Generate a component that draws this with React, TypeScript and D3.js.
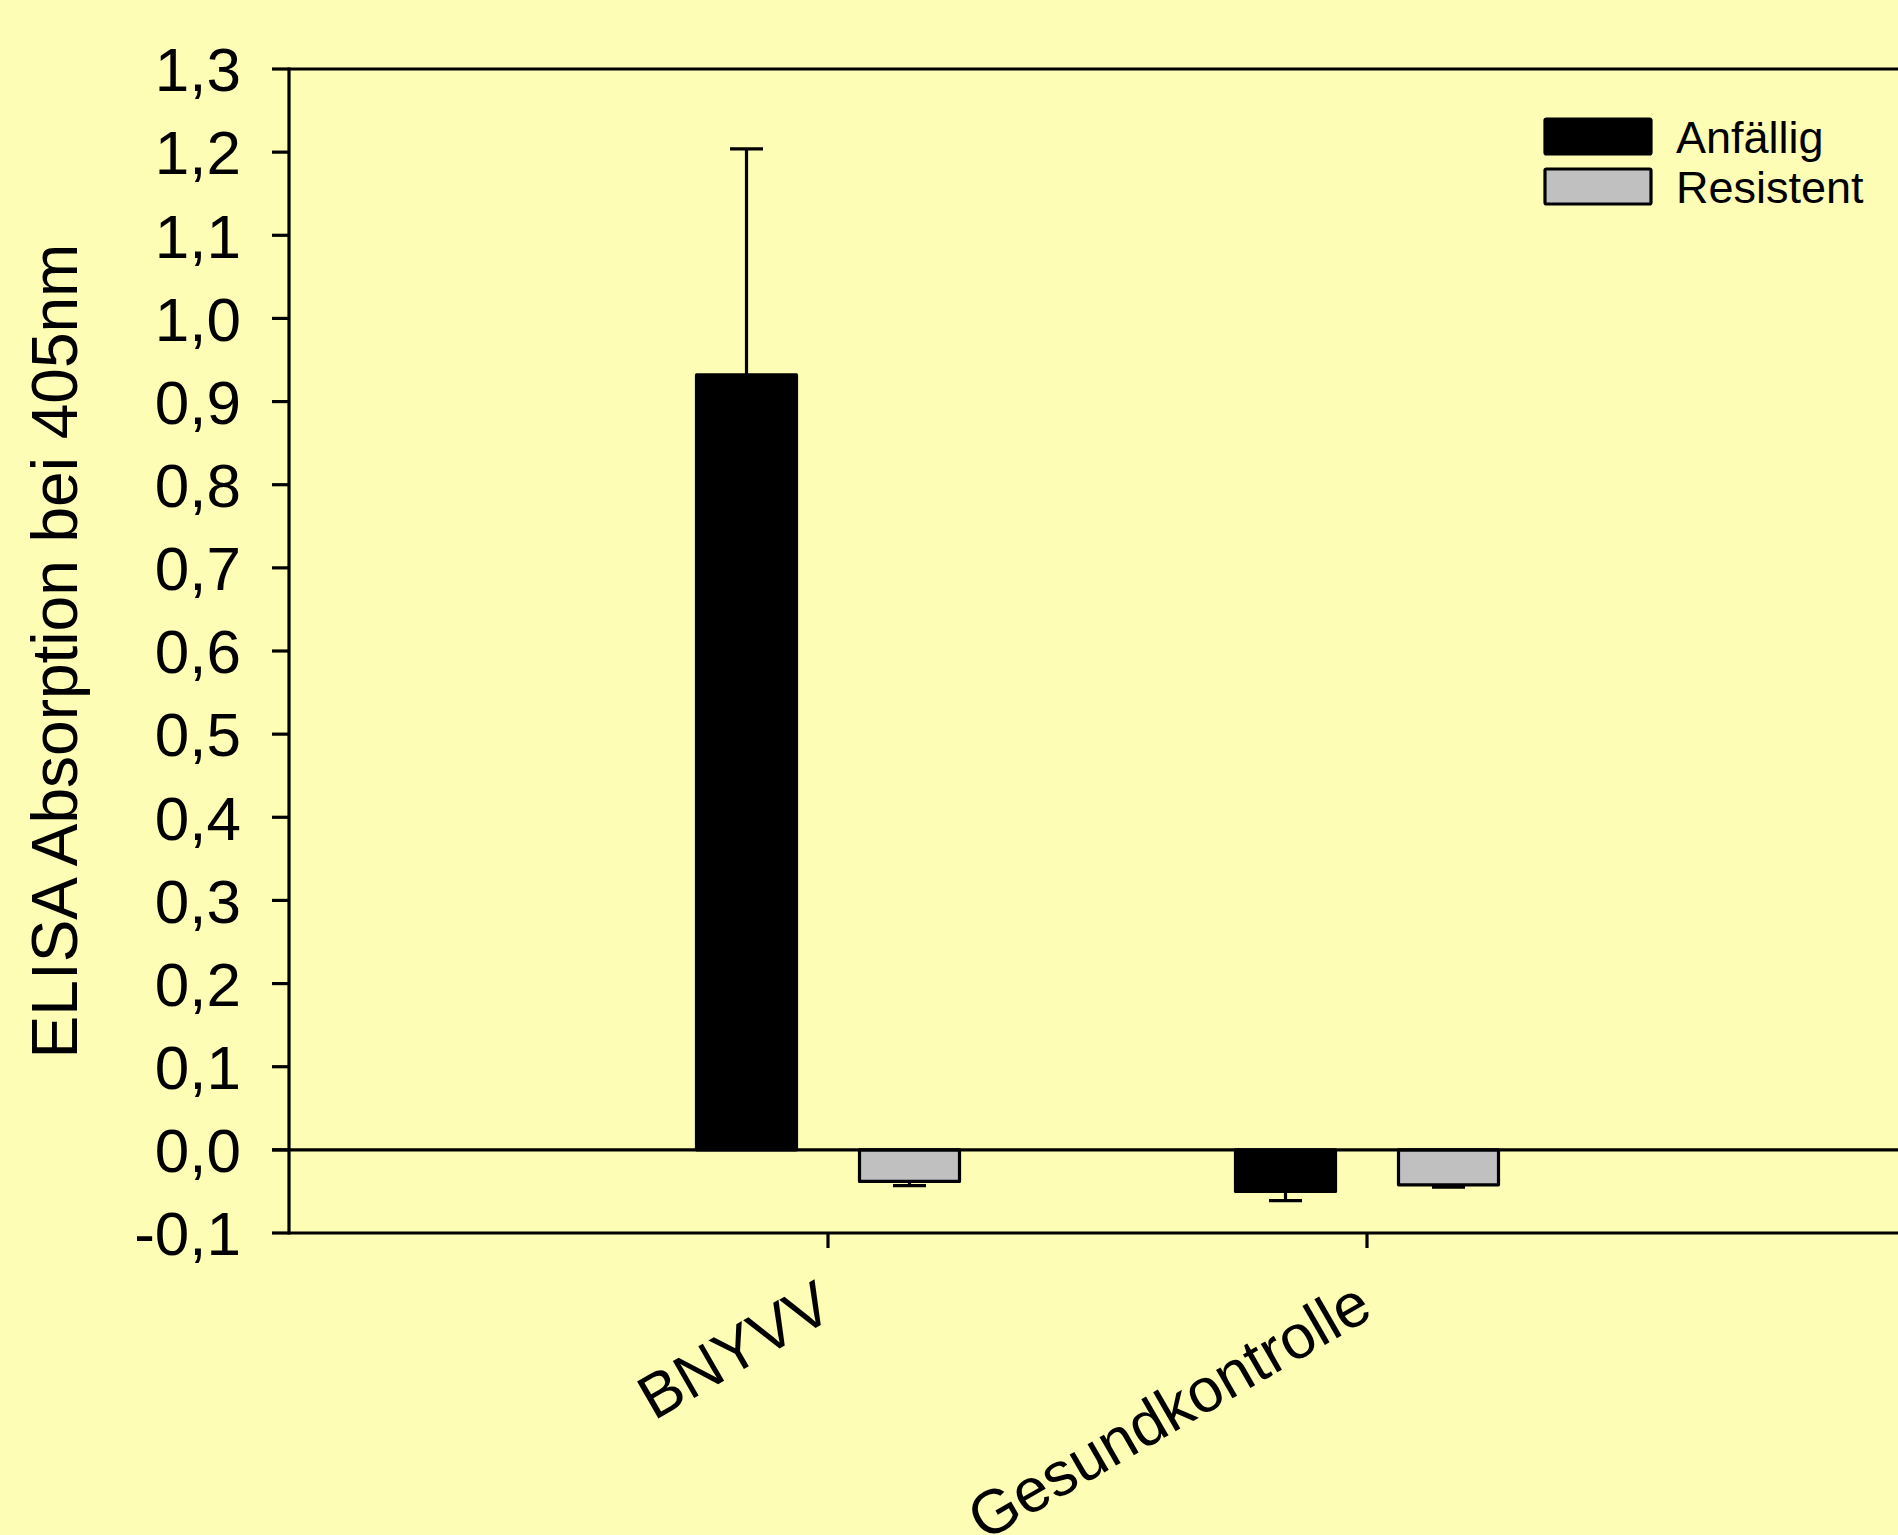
import React, { useEffect, useRef } from "react";
import * as d3 from "d3";

const WIDTH = 1898;
const HEIGHT = 1535;
const BACKGROUND = "#fdfdb5";
const FONT = "'Liberation Sans', Arial, sans-serif";

// data
const categories = ["BNYVV", "Gesundkontrolle"];
const seriesNames = ["Anfällig", "Resistent"];
const seriesColors = ["#000000", "#c0c0c0"];
const anfaellig = [0.932, -0.05];
const anfaelligErr = [0.272, 0.011];
const resistent = [-0.038, -0.042];
const resistentErr = [0.005, 0.003];
const yTicks = [-0.1, 0.0, 0.1, 0.2, 0.3, 0.4, 0.5, 0.6, 0.7, 0.8, 0.9, 1.0, 1.1, 1.2, 1.3];
const yTitle = "ELISA Absorption bei 405nm";

const locale = d3.formatLocale({
  decimal: ",",
  thousands: ".",
  grouping: [3],
  currency: ["", " €"],
  minus: "-",
});
const Formatter = locale.format(".1f");

const LEFT = 289;
const TOP = 69;
const BOTTOM = 1233;
const LINE = 3.2;

export default function App() {
  const svgRef = useRef<SVGSVGElement>(null);

  useEffect(() => {
    const svg = d3.select(svgRef.current);
    svg.selectAll("*").remove();

    const Y = d3.scaleLinear().domain([-0.1, 1.3]).range([BOTTOM, TOP]);
    const X = d3.scalePoint<string>().domain(categories).range([LEFT, LEFT + 3 * 539]).padding(1);
    const S = d3.scaleBand<string>().domain(seriesNames).range([-131.5, 131.5]).paddingInner(63 / 163);

    svg.append("rect").attr("width", WIDTH).attr("height", HEIGHT).attr("fill", BACKGROUND);

    const series = [
      { name: seriesNames[0], values: anfaellig, errs: anfaelligErr, color: seriesColors[0] },
      { name: seriesNames[1], values: resistent, errs: resistentErr, color: seriesColors[1] },
    ];

    const rows = series.flatMap((s) =>
      categories.map((c, i) => ({ cat: c, name: s.name, v: s.values[i], e: s.errs[i], color: s.color }))
    );

    // bars
    svg
      .append("g")
      .selectAll("rect")
      .data(rows)
      .enter()
      .append("rect")
      .attr("x", (d) => X(d.cat) + S(d.name))
      .attr("y", (d) => Math.min(Y(d.v), Y(0)))
      .attr("width", S.bandwidth())
      .attr("height", (d) => Math.abs(Y(d.v) - Y(0)))
      .attr("fill", (d) => d.color)
      .attr("stroke", "#000")
      .attr("stroke-width", LINE)
      .attr("stroke-linejoin", "round");

    // error bars, drawn away from zero only
    const err = svg.append("g").attr("stroke", "#000").attr("stroke-width", LINE);
    rows.forEach((d) => {
      const cx = X(d.cat) + S(d.name) + S.bandwidth() / 2;
      const end = d.v >= 0 ? d.v + d.e : d.v - d.e;
      err.append("line").attr("x1", cx).attr("x2", cx).attr("y1", Y(d.v)).attr("y2", Y(end));
      err.append("line").attr("x1", cx - 16.5).attr("x2", cx + 16.5).attr("y1", Y(end)).attr("y2", Y(end));
    });

    // zero line + frame
    const axes = svg.append("g").attr("stroke", "#000").attr("stroke-width", LINE);
    axes.append("line").attr("x1", LEFT - 17).attr("x2", WIDTH).attr("y1", Y(0)).attr("y2", Y(0));
    axes.append("line").attr("x1", LEFT).attr("x2", WIDTH).attr("y1", TOP).attr("y2", TOP);
    axes.append("line").attr("x1", LEFT).attr("x2", WIDTH).attr("y1", BOTTOM).attr("y2", BOTTOM);
    axes.append("line").attr("x1", LEFT).attr("x2", LEFT).attr("y1", TOP - 1.6).attr("y2", BOTTOM + 1.6);

    // y ticks
    const yAxis = svg.append("g");
    yAxis
      .selectAll("line")
      .data(yTicks)
      .enter()
      .append("line")
      .attr("x1", LEFT - 17)
      .attr("x2", LEFT)
      .attr("y1", (d) => Y(d))
      .attr("y2", (d) => Y(d))
      .attr("stroke", "#000")
      .attr("stroke-width", LINE);
    yAxis
      .selectAll("text")
      .data(yTicks)
      .enter()
      .append("text")
      .attr("x", 241)
      .attr("y", (d) => Y(d))
      .attr("dy", "0.36em")
      .attr("text-anchor", "end")
      .attr("font-family", FONT)
      .attr("font-size", 62)
      .text((d) => Formatter(d));

    svg
      .append("text")
      .attr("transform", `translate(77, 651) rotate(-90)`)
      .attr("text-anchor", "middle")
      .attr("font-family", FONT)
      .attr("font-size", 64)
      .text(yTitle);

    // x ticks + labels
    const xAxis = svg.append("g");
    xAxis
      .selectAll("line")
      .data(categories)
      .enter()
      .append("line")
      .attr("x1", (d) => X(d))
      .attr("x2", (d) => X(d))
      .attr("y1", BOTTOM)
      .attr("y2", BOTTOM + 15)
      .attr("stroke", "#000")
      .attr("stroke-width", LINE);
    xAxis
      .selectAll("text")
      .data(categories)
      .enter()
      .append("text")
      .attr("transform", (d) => `translate(${X(d) + 8}, ${BOTTOM + 83}) rotate(-30)`)
      .attr("text-anchor", "end")
      .attr("font-family", FONT)
      .attr("font-size", 62)
      .text((d) => d);

    // legend
    const legend = svg.append("g");
    series.forEach((s, i) => {
      const y0 = 119 + i * 50;
      legend
        .append("rect")
        .attr("x", 1545)
        .attr("y", y0)
        .attr("width", 106)
        .attr("height", 35)
        .attr("fill", s.color)
        .attr("stroke", "#000")
        .attr("stroke-width", LINE)
        .attr("rx", 1.5);
      legend
        .append("text")
        .attr("x", 1676)
        .attr("y", y0 + 34)
        .attr("font-family", FONT)
        .attr("font-size", 45)
        .text(s.name);
    });
  }, []);

  return (
    <svg
      ref={svgRef}
      width={WIDTH}
      height={HEIGHT}
      style={{ position: "absolute", left: 0, top: 0, display: "block" }}
    />
  );
}
